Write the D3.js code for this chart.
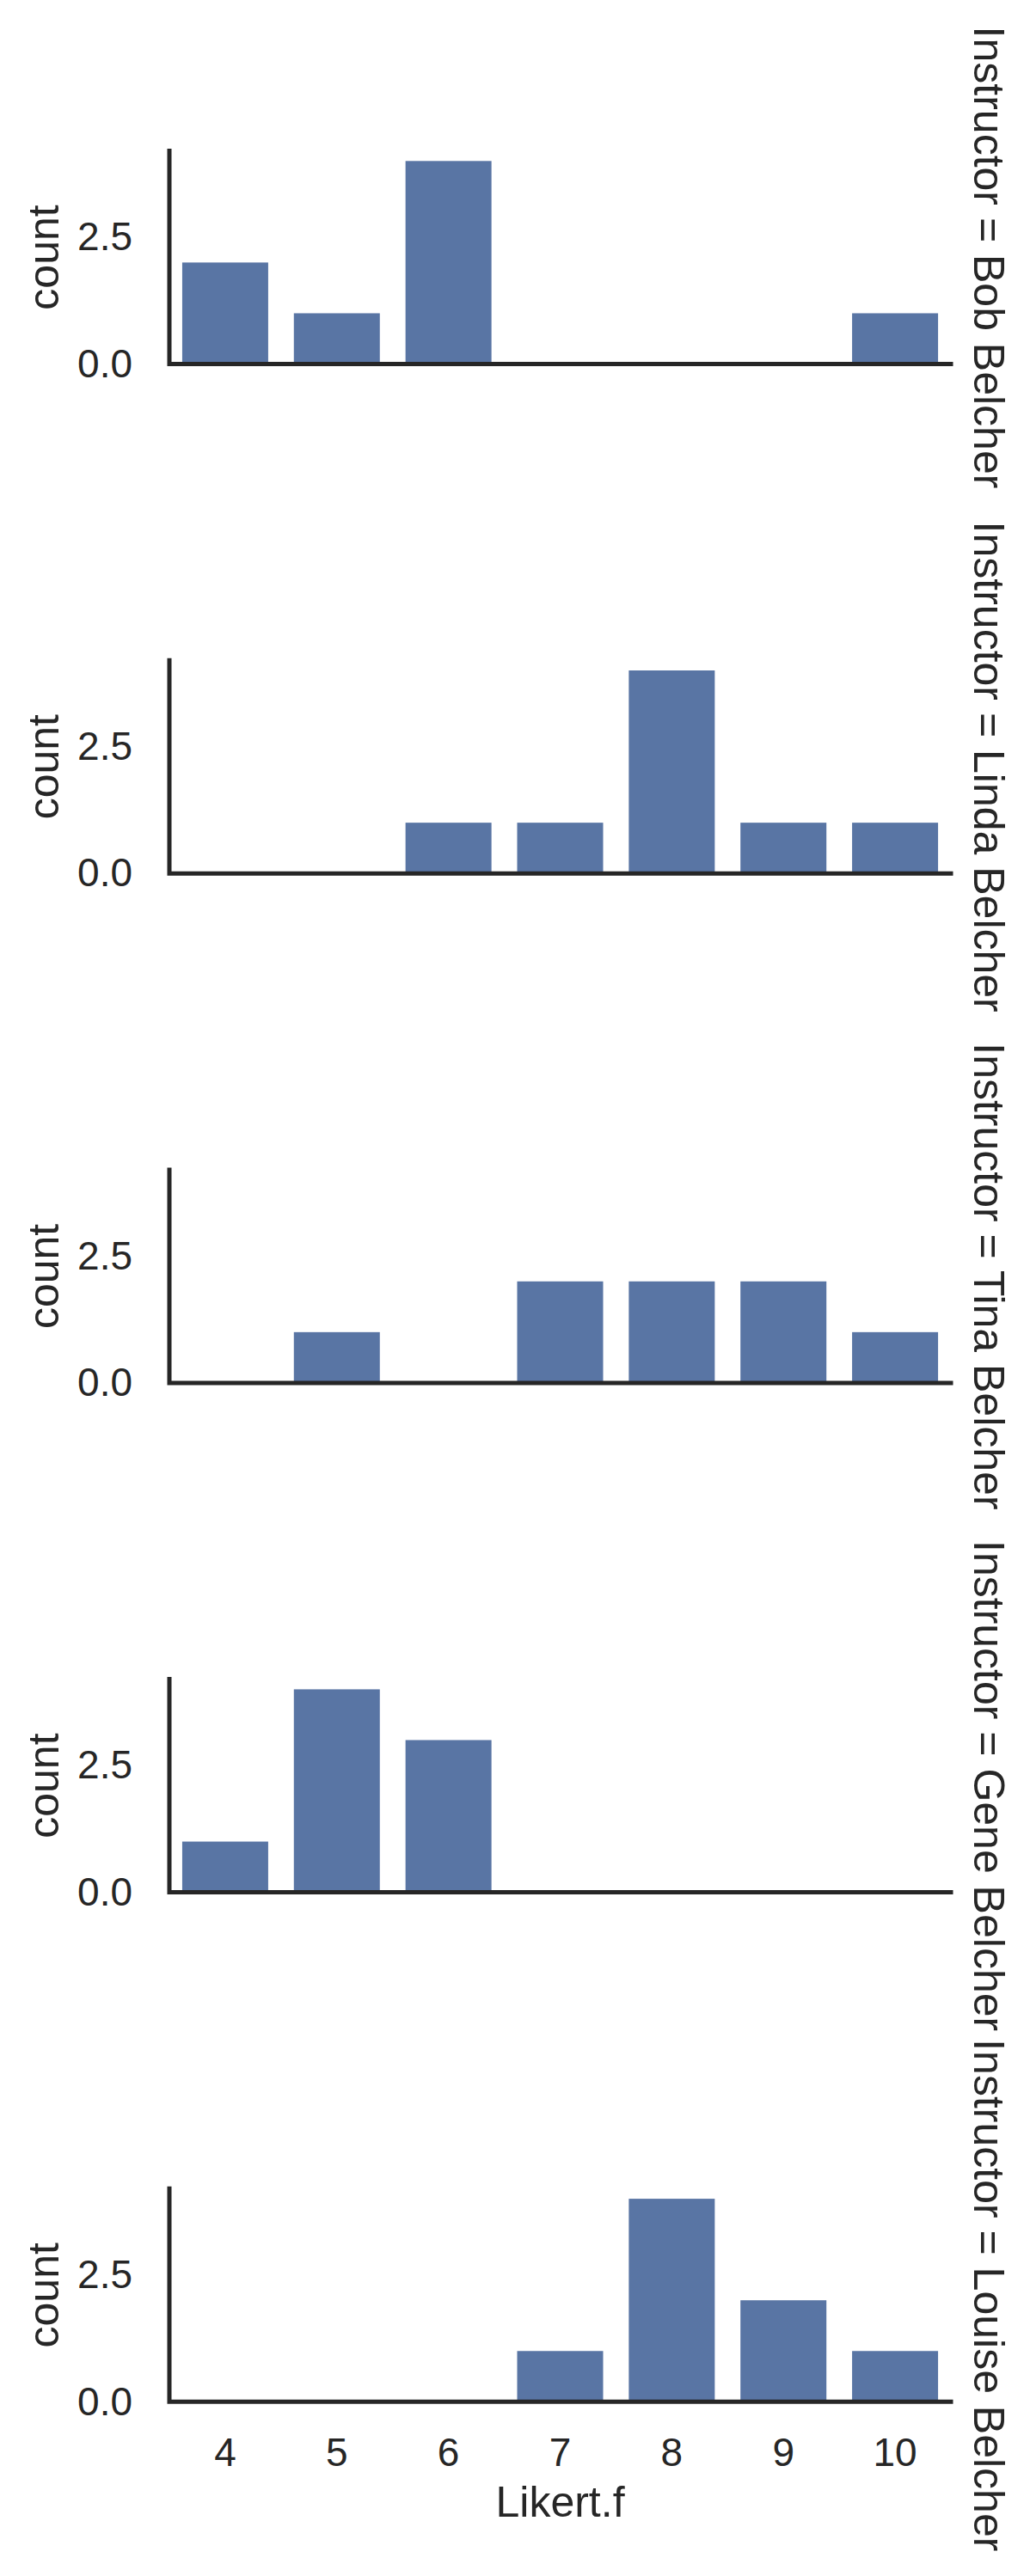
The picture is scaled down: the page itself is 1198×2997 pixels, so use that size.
<!DOCTYPE html>
<html>
<head>
<meta charset="utf-8">
<script src="https://cdn.jsdelivr.net/npm/d3@7"></script>
<style>
  body { margin: 0; background: #fff; }
  svg { display: block; font-family: "Liberation Sans", Arial, sans-serif; }
</style>
</head>
<body>
<svg id="chart"></svg>
<script>
// categories and counts, one array per facet row
const likert = ['4', '5', '6', '7', '8', '9', '10'];
const instructors = ['Bob Belcher', 'Linda Belcher', 'Tina Belcher', 'Gene Belcher', 'Louise Belcher'];
const bobCounts = [2, 1, 4, 0, 0, 0, 1];
const lindaCounts = [0, 0, 1, 1, 4, 1, 1];
const tinaCounts = [0, 1, 0, 2, 2, 2, 1];
const geneCounts = [1, 4, 3, 0, 0, 0, 0];
const louiseCounts = [0, 0, 0, 1, 4, 2, 1];
const yTicks = [0, 2.5];
const yMax = 4.2;

const rows = [bobCounts, lindaCounts, tinaCounts, geneCounts, louiseCounts];

const width = 1198;
const height = 2997;
const left = 197;
const right = 1106;
const firstBase = 423.5;   // y of the x spine in the first facet
const pitch = 592.7;       // distance between facets
const axH = 248;
const ink = '#262626';
const barColor = '#5975a4';

const svg = d3.select('#chart')
  .attr('width', width)
  .attr('height', height);

svg.append('rect')
  .attr('width', width)
  .attr('height', height)
  .attr('fill', '#fff');

const x = d3.scaleBand()
  .domain(likert)
  .range([left, right])
  .paddingInner(0.23)
  .paddingOuter(0.115);

rows.forEach((counts, r) => {
  const base = firstBase + r * pitch;
  const y = d3.scaleLinear()
    .domain([0, yMax])
    .range([base, base - axH]);

  const g = svg.append('g');

  // bars
  g.selectAll('rect.bar')
    .data(likert.map((k, i) => ({ name: k, value: counts[i] })))
    .enter()
    .append('rect')
    .attr('class', 'bar')
    .attr('x', d => x(d.name))
    .attr('width', x.bandwidth())
    .attr('y', d => y(d.value))
    .attr('height', d => y(0) - y(d.value))
    .attr('fill', barColor);

  // y axis, no tick marks
  const yAxis = d3.axisLeft(y)
    .tickValues(yTicks)
    .tickFormat(d3.format('.1f'))
    .tickSize(0)
    .tickPadding(43);
  const ya = g.append('g')
    .attr('transform', `translate(${left},0)`)
    .call(yAxis);
  ya.select('.domain').remove();
  ya.selectAll('text')
    .attr('font-size', 46)
    .attr('font-family', '"Liberation Sans", Arial, sans-serif')
    .attr('fill', ink);

  // spines (left + bottom)
  g.append('path')
    .attr('d', `M${left},${y(yMax)} V${base} H${right}`)
    .attr('fill', 'none')
    .attr('stroke', ink)
    .attr('stroke-width', 5)
    .attr('stroke-linecap', 'square')
    .attr('stroke-linejoin', 'miter');

  // y label
  g.append('text')
    .attr('transform', `translate(68,${base - axH / 2}) rotate(-90)`)
    .attr('text-anchor', 'middle')
    .attr('font-size', 50)
    .attr('fill', ink)
    .text('count');

  // facet title on the right
  g.append('text')
    .attr('transform', `translate(1133,${base - axH / 2}) rotate(90)`)
    .attr('text-anchor', 'middle')
    .attr('font-size', 50)
    .attr('fill', ink)
    .text(`Instructor = ${instructors[r]}`);

  // x axis only on the last facet
  if (r === rows.length - 1) {
    const xAxis = d3.axisBottom(x)
      .tickSize(0)
      .tickPadding(42);
    const xa = g.append('g')
      .attr('transform', `translate(0,${base})`)
      .call(xAxis);
    xa.select('.domain').remove();
    xa.selectAll('text')
      .attr('font-size', 46)
      .attr('font-family', '"Liberation Sans", Arial, sans-serif')
      .attr('fill', ink);

    g.append('text')
      .attr('x', (left + right) / 2)
      .attr('y', base + 134)
      .attr('text-anchor', 'middle')
      .attr('font-size', 50)
      .attr('fill', ink)
      .text('Likert.f');
  }
});
</script>
</body>
</html>
